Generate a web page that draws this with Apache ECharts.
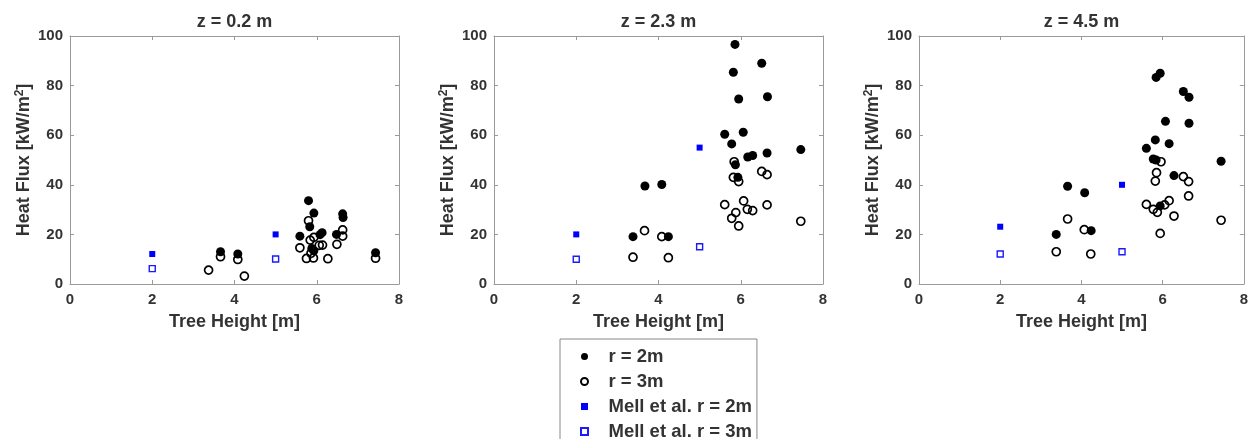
<!DOCTYPE html>
<html>
<head>
<meta charset="utf-8">
<script src="https://cdn.jsdelivr.net/npm/echarts@6/dist/echarts.min.js"></script>
<style>
html,body{margin:0;padding:0;background:#fff;}
#chart{width:1251px;height:439px;}
</style>
</head>
<body>
<div id="chart"></div>
<script>
// ---- data ----
const panelTitles = ['z = 0.2 m', 'z = 2.3 m', 'z = 4.5 m'];
const seriesNames = ['r = 2m', 'r = 3m', 'Mell et al. r = 2m', 'Mell et al. r = 3m'];
const xTicks = [0, 2, 4, 6, 8];
const yTicks = [0, 20, 40, 60, 80, 100];

// z = 0.2 m
const z02_r2 = [[3.66,13.0],[4.08,12.1],[5.59,19.3],[5.80,33.6],[5.83,23.1],[5.93,28.6],[5.88,14.3],[5.93,13.4],[6.08,19.9],[6.13,20.7],[6.48,20.0],[6.63,28.3],[6.64,26.8],[7.43,12.6]];
const z02_r3 = [[3.37,5.6],[3.66,11.0],[4.08,9.9],[4.24,3.2],[5.59,14.6],[5.80,25.5],[5.84,17.7],[5.75,10.3],[5.92,10.5],[5.93,18.8],[5.86,12.4],[6.06,15.6],[6.14,15.7],[6.27,10.2],[6.49,16.0],[6.63,21.8],[6.63,19.3],[7.43,10.4]];
const z02_mell_r2 = [[2,12.1],[5,20.0]];
const z02_mell_r3 = [[2,6.2],[5,10.1]];

// z = 2.3 m
const z23_r2 = [[3.38,19.1],[3.67,39.5],[4.08,40.1],[4.24,19.1],[5.61,60.4],[5.78,56.5],[5.82,85.4],[5.86,96.6],[5.87,48.1],[5.93,43.0],[5.95,74.6],[6.06,61.2],[6.17,51.2],[6.29,51.8],[6.51,89.0],[6.64,52.8],[6.65,75.5],[7.46,54.2]];
const z23_r3 = [[3.38,10.8],[3.66,21.5],[4.08,19.1],[4.24,10.6],[5.61,32.0],[5.78,26.5],[5.82,43.0],[5.84,49.3],[5.88,28.8],[5.95,41.3],[5.95,23.4],[6.07,33.5],[6.16,30.1],[6.29,29.6],[6.51,45.4],[6.64,44.1],[6.64,31.9],[7.46,25.3]];
const z23_mell_r2 = [[2,20.0],[5,55.0]];
const z23_mell_r3 = [[2,10.0],[5,15.0]];

// z = 4.5 m
const z45_r2 = [[3.38,20.0],[3.66,39.4],[4.08,36.8],[4.24,21.5],[5.60,54.7],[5.77,50.4],[5.82,58.1],[5.84,83.3],[5.84,50.0],[5.94,85.0],[5.94,31.5],[6.07,65.6],[6.16,56.6],[6.28,43.7],[6.51,77.6],[6.65,75.3],[6.65,64.8],[7.44,49.5]];
const z45_r3 = [[3.38,13.0],[3.66,26.2],[4.07,21.9],[4.23,12.1],[5.60,32.1],[5.77,30.1],[5.82,41.5],[5.85,44.9],[5.87,28.9],[5.94,20.4],[5.96,49.3],[6.05,31.9],[6.16,33.6],[6.28,27.4],[6.51,43.3],[6.64,41.3],[6.64,35.5],[7.44,25.7]];
const z45_mell_r2 = [[2,23.1],[5,40.0]];
const z45_mell_r3 = [[2,12.1],[5,13.0]];

const panels = [
  [z02_r2, z02_r3, z02_mell_r2, z02_mell_r3],
  [z23_r2, z23_r3, z23_mell_r2, z23_mell_r3],
  [z45_r2, z45_r3, z45_mell_r2, z45_mell_r3]
];

// ---- layout & style ----
const FONT = 'Liberation Sans, Arial, sans-serif';
const TXT = '#333333';
const AX = '#9a9a9a';
const gridLefts = [70, 494, 919];
const gridW = 329, gridTop = 36, gridH = 248;

const styles = [
  {symbol: 'circle', symbolSize: 9, itemStyle: {color: '#000', opacity: 1, borderWidth: 0}},
  {symbol: 'circle', symbolSize: 8, itemStyle: {color: 'rgba(0,0,0,0)', opacity: 1, borderColor: '#000', borderWidth: 1.7}},
  {symbol: 'rect', symbolSize: 6, itemStyle: {color: '#0000ff', opacity: 1, borderWidth: 0}},
  {symbol: 'rect', symbolSize: 6, itemStyle: {color: 'rgba(0,0,0,0)', opacity: 1, borderColor: '#1a1aff', borderWidth: 1.4}}
];

const grid = [], xAxis = [], yAxis = [], series = [];
panels.forEach((p, i) => {
  grid.push({left: gridLefts[i], top: gridTop, width: gridW, height: gridH, containLabel: false});
  xAxis.push({
    type: 'value', gridIndex: i, position: 'bottom', min: 0, max: 8, interval: 2,
    name: 'Tree Height [m]', nameLocation: 'middle', nameGap: 29,
    nameTextStyle: {fontFamily: FONT, fontWeight: 'bold', fontSize: 18, color: TXT},
    axisLine: {onZero: false, lineStyle: {color: AX, width: 1}},
    axisTick: {inside: true, length: 4, lineStyle: {color: AX}},
    axisLabel: {margin: 8, fontFamily: FONT, fontWeight: 'bold', fontSize: 15, color: TXT},
    splitLine: {show: false}
  });
  xAxis.push({
    type: 'value', gridIndex: i, position: 'top', min: 0, max: 8, interval: 2,
    name: panelTitles[i], nameLocation: 'middle', nameGap: 5,
    nameTextStyle: {fontFamily: FONT, fontWeight: 'bold', fontSize: 18, color: TXT},
    axisLine: {onZero: false, lineStyle: {color: AX, width: 1}},
    axisTick: {inside: true, length: 4, lineStyle: {color: AX}},
    axisLabel: {show: false},
    splitLine: {show: false}
  });
  yAxis.push({
    type: 'value', gridIndex: i, position: 'left', min: 0, max: 100, interval: 20,
    name: '{b|Heat Flux [kW/m}{s|2}{b|]}', nameLocation: 'middle', nameGap: 33, nameRotate: 90,
    nameTextStyle: {fontFamily: FONT, fontWeight: 'bold', fontSize: 18, color: TXT,
      rich: {
        b: {fontFamily: FONT, fontWeight: 'bold', fontSize: 18, color: TXT, lineHeight: 20},
        s: {fontFamily: FONT, fontWeight: 'bold', fontSize: 12, color: TXT, verticalAlign: 'top', lineHeight: 20, padding: [0, 0, 8, 0]}
      }},
    axisLine: {onZero: false, lineStyle: {color: AX, width: 1}},
    axisTick: {inside: true, length: 4, lineStyle: {color: AX}},
    axisLabel: {margin: 7, fontFamily: FONT, fontWeight: 'bold', fontSize: 15, color: TXT},
    splitLine: {show: false}
  });
  yAxis.push({
    type: 'value', gridIndex: i, position: 'right', min: 0, max: 100, interval: 20,
    axisLine: {onZero: false, lineStyle: {color: AX, width: 1}},
    axisTick: {inside: true, length: 4, lineStyle: {color: AX}},
    axisLabel: {show: false},
    splitLine: {show: false}
  });
  p.forEach((data, k) => {
    series.push(Object.assign({
      type: 'scatter', name: seriesNames[k], data: data,
      xAxisIndex: i * 2, yAxisIndex: i * 2,
      z: 2 + k, animation: false, emphasis: {disabled: true}
    }, JSON.parse(JSON.stringify(styles[k]))));
  });
});

const legendIcons = ['circle', 'circle', 'path://M0,0H10V10H0Z', 'path://M0,0H10V10H0Z'];
const option = {
  backgroundColor: '#fff',
  animation: false,
  grid, xAxis, yAxis, series,
  legend: {
    orient: 'vertical', left: 560, top: 339, height: 140,
    padding: [8, 5, 7, 20],
    itemWidth: 38, itemHeight: 7, itemGap: 6,
    backgroundColor: '#fff', borderColor: '#888', borderWidth: 1,
    textStyle: {fontFamily: FONT, fontWeight: 'bold', fontSize: 18.5, color: TXT, lineHeight: 16},
    data: seriesNames.map((n, k) => ({name: n, icon: legendIcons[k]})),
    selectedMode: false
  }
};

const chart = echarts.init(document.getElementById('chart'), null, {renderer: 'canvas'});
chart.setOption(option);
</script>
</body>
</html>
